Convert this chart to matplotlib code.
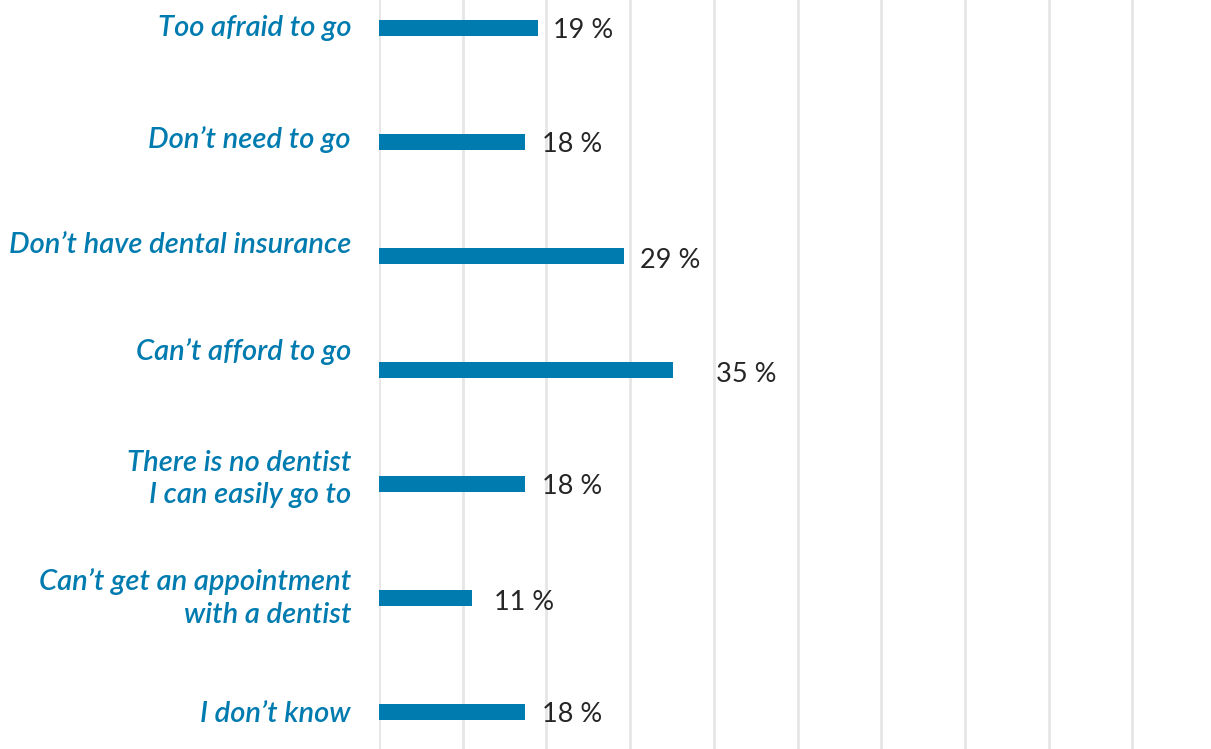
import matplotlib
matplotlib.use("Agg")
import matplotlib.pyplot as plt
from matplotlib.transforms import offset_copy, blended_transform_factory

categories = [
    "Too afraid to go",
    "Don\u2019t need to go",
    "Don\u2019t have dental insurance",
    "Can\u2019t afford to go",
    "There is no dentist\nI can easily go to",
    "Can\u2019t get an appointment\nwith a dentist",
    "I don\u2019t know",
]
# bar lengths (%)
values = [19.0, 17.4, 29.3, 35.1, 17.4, 11.1, 17.4]
value_labels = ["19 %", "18 %", "29 %", "35 %", "18 %", "11 %", "18 %"]

# style: pixel offsets of labels (as in the reference layout)
label_pad_px = [15, 17, 16, 43, 17, 22, 17]
value_dy_px = [-2, -3, -4, -5, -3, -4, -3]
cat_dy_px = [0, 2, 11, 18, 5, 0, -2]

BLUE = "#007BAF"
DARK = "#262626"
GRID = "#E6E6E6"

W, H, DPI = 1211, 749, 100
fig = plt.figure(figsize=(W / DPI, H / DPI), dpi=DPI)
left = 379 / W
ax = fig.add_axes([left, 0, 1 - left, 1])

pos = list(range(len(categories)))
ax.barh(pos, values, height=0.143, color=BLUE, zorder=3)

ax.set_xlim(0, (W - 379) / 8.37)
ax.set_ylim(len(categories) - 1 + 37 / 114, -28 / 114)
ax.set_xticks(range(0, 100, 10))
ax.grid(axis="x", color=GRID, linewidth=2, zorder=0)
ax.tick_params(left=False, bottom=False, labelleft=False, labelbottom=False)
for s in ax.spines.values():
    s.set_visible(False)

trans_cat = blended_transform_factory(ax.transAxes, ax.transData)
for i, (c, dy) in enumerate(zip(categories, cat_dy_px)):
    t = offset_copy(trans_cat, fig=fig, x=-28, y=dy, units="dots")
    ax.text(0, i, c, transform=t, ha="right", va="center", multialignment="right",
            color=BLUE, fontsize=21, fontstyle="italic", fontweight="semibold",
            family=["Lato", "DejaVu Sans"], linespacing=1.32)

for i, (v, lab, pad, dy) in enumerate(zip(values, value_labels, label_pad_px, value_dy_px)):
    t = offset_copy(ax.transData, fig=fig, x=pad, y=dy, units="dots")
    ax.text(v, i, lab, transform=t, ha="left", va="center", color=DARK,
            fontsize=19.5, family=["Lato", "DejaVu Sans"])

fig.savefig("out.png", dpi=DPI)
